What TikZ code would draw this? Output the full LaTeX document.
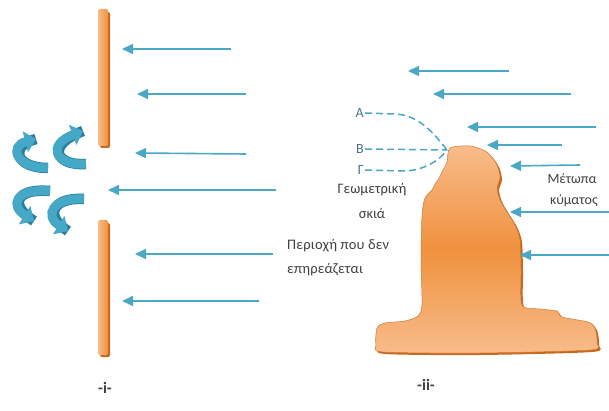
\documentclass[tikz,border=0pt]{standalone}
\usepackage{fontspec}
\setmainfont{Carlito}
\usepackage{xcolor}
\usetikzlibrary{arrows.meta}
\definecolor{wavecol}{HTML}{4AA8C4}
\definecolor{wallcol}{HTML}{F0913F}
\definecolor{walllight}{HTML}{F8BC8A}
\definecolor{wallshade}{HTML}{C8691E}
\definecolor{textcol}{HTML}{404040}
\definecolor{labcol}{HTML}{4F6D8C}
\definecolor{curlcol}{HTML}{45A8C7}
\definecolor{curldark}{HTML}{2A7F9C}

\begin{document}
\begin{tikzpicture}[x=1pt,y=-1pt]
\tikzstyle{every node}=[font=\fontsize{14.5}{17}\selectfont, text=textcol, inner sep=1pt]
\tikzstyle{wave}=[line width=1.6pt, wavecol, -{Triangle[length=11pt,width=10pt]}]
\tikzstyle{ray}=[wavecol, line width=1.5pt, dash pattern=on 7pt off 4pt]
\tikzstyle{curl}=[line width=9pt, curlcol, -{Triangle[length=11pt,width=21pt]},
  preaction={draw, curldark, line width=10.5pt, -}]
\tikzstyle{wall}=[rounded corners=2pt, left color=walllight, right color=wallcol]
\useasboundingbox (0,0) rectangle (609,411);

% -i- breakwater with a gap
\fill [wallshade, rounded corners=2pt] (100,12) rectangle (110,148);
\path [wall] (98,9) rectangle (108,146);
\fill [wallshade, rounded corners=2pt] (100,223) rectangle (110,357);
\path [wall] (98,220) rectangle (108,355);

\draw [wave] (231,49) coordinate (a1) -- (122,49) coordinate (b1);
\draw [wave] (246,94) coordinate (a2) -- (137,94) coordinate (b2);
\draw [wave] (246,154) coordinate (a3) -- (135,153) coordinate (b3);
\draw [wave] (276,190) coordinate (a4) -- (108,190) coordinate (b4);
\draw [wave] (273,254) coordinate (a5) -- (135,254) coordinate (b5);
\draw [wave] (259,301) coordinate (a6) -- (122,301) coordinate (b6);

% diffracted waves behind the gap
\draw [curl] (86,164) .. controls (55,166) and (46,145) .. (83,131);
\draw [curl] (48,168) .. controls (15,168) and (9,146) .. (36,139);
\draw [curl] (50,191) .. controls (14,188) and (10,206) .. (34,221);
\draw [curl] (84,199) .. controls (52,197) and (44,216) .. (68,231);

\node (perioxi) [anchor=west, font=\fontsize{14.5}{17}\selectfont\addfontfeature{LetterSpace=1.5}] at (286,246) {Περιοχή που δεν};
\node (epirea) [anchor=west, font=\fontsize{14.5}{17}\selectfont\addfontfeature{LetterSpace=1.5}] at (286,270) {επηρεάζεται};
\node (one) [font=\fontsize{16}{18}\selectfont\bfseries] at (105,388) {-i-};

% -ii- headland
\fill [wallshade] plot [smooth cycle, tension=0.45] coordinates {
  (452,150) (472,148) (489,154) (499,167) (502,180) (499,190) (502,202) (509,214)
  (517,227) (522,242) (523,272) (524,307) (542,311) (559,313) (564,319) (590,324)
  (597,330) (599,345) (592,352) (480,355) (385,354) (378,347) (379,330) (387,325)
  (407,323) (420,318) (424,307) (423,262) (424,217) (427,200) (434,192) (437,186)
  (440,182) (444,174) (449,164)};
\path [top color=walllight, bottom color=walllight, middle color=wallcol,
  draw=wallcol!85!black, line width=0.5pt]
  plot [smooth cycle, tension=0.45] coordinates {
  (450,148) (470,146) (487,152) (497,165) (500,178) (497,188) (500,200) (507,212)
  (515,225) (520,240) (521,270) (522,305) (540,309) (557,311) (562,317) (588,322)
  (595,328) (597,343) (590,350) (480,353) (383,352) (376,345) (377,328) (385,323)
  (405,321) (418,316) (422,305) (421,260) (422,215) (425,198) (432,190) (435,184)
  (438,180) (442,172) (447,162)};

\draw [wave] (509,71) coordinate (c1) -- (408,71) coordinate (d1);
\draw [wave] (571,94) coordinate (c2) -- (433,94) coordinate (d2);
\draw [wave] (596,127) coordinate (c3) -- (467,127) coordinate (d3);
\draw [wave] (562,145) coordinate (c4) -- (487,145) coordinate (d4);
\draw [wave] (580,165) coordinate (c5) -- (510,166) coordinate (d5);
\draw [wave] (612,212) coordinate (c6) -- (510,212) coordinate (d6);
\draw [wave] (612,255) coordinate (c7) -- (520,255) coordinate (d7);

% shadow edges
\coordinate (tip) at (447,150);
\node (A) [text=labcol, anchor=east, font=\fontsize{14}{16}\selectfont] at (365,113) {Α};
\node (B) [text=labcol, anchor=east, font=\fontsize{14}{16}\selectfont] at (365,149) {Β};
\node (G) [text=labcol, anchor=east, font=\fontsize{14}{16}\selectfont] at (365,170) {Γ};
\draw [ray] (A.east) -- (395,114) .. controls (420,115) and (435,135) .. (tip);
\draw [ray] (B.east) -- (tip);
\draw [ray] (G.east) -- (405,171) .. controls (425,170) and (440,160) .. (tip);

\node (geo) at (372,190) {Γεωμετρική};
\node (skia) at (372,213) {σκιά};
\node (metopa) [font=\fontsize{14}{16}\selectfont] at (572,179) {Μέτωπα};
\node (kymatos) [font=\fontsize{14}{16}\selectfont] at (574,201) {κύματος};
\node (two) [font=\fontsize{16}{18}\selectfont\bfseries] at (426,385) {-ii-};
\end{tikzpicture}
\end{document}
